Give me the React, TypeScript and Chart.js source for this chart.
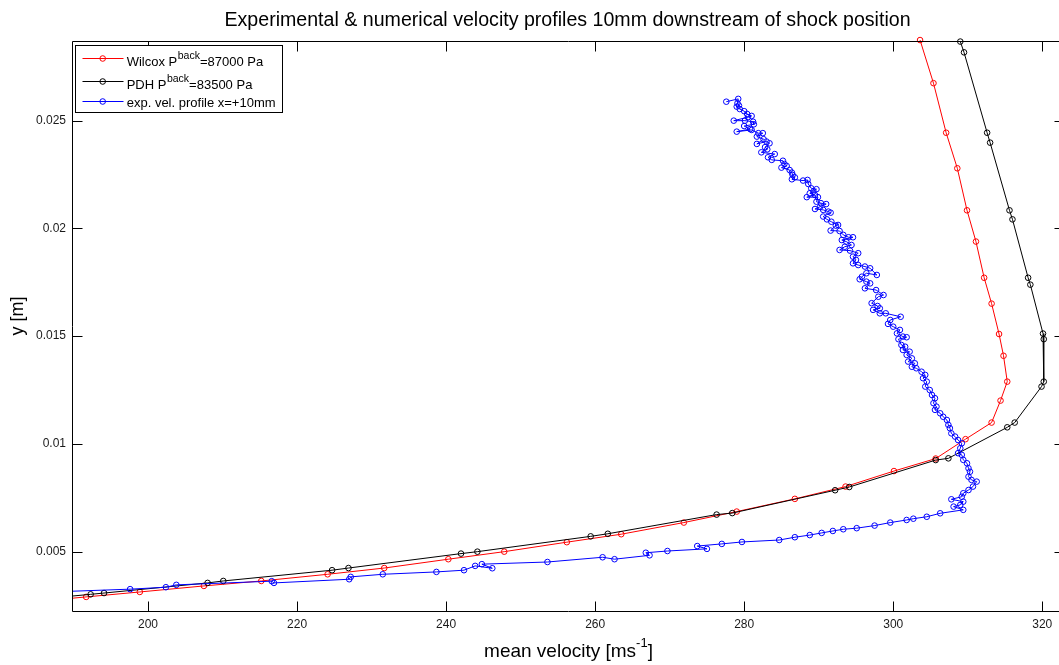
import React, { useEffect, useRef } from 'react';
import { Chart, registerables } from 'chart.js';

Chart.register(...registerables);

// ---------- DATA ----------
const titleText = 'Experimental & numerical velocity profiles 10mm downstream of shock position';
const xLabelMain = 'mean velocity [ms';
const xLabelSup = '-1';
const xLabelEnd = ']';
const yLabel = 'y [m]';

const xTicks = [200, 220, 240, 260, 280, 300, 320];
const yTicks = [0.005, 0.01, 0.015, 0.02, 0.025];
const xRange = [189.8, 323.05];
const yRange = [0.0022, 0.02865];

// Wilcox, P_back = 87000 Pa
const wilcoxVel = [303.6, 305.4, 307.1, 308.6, 309.9, 311.1, 312.2, 313.2, 314.2, 314.8, 315.3, 314.4, 313.2, 309.7, 305.7, 300.1, 293.6, 286.8, 279.0, 271.9, 263.5, 256.2, 247.8, 240.3, 231.7, 224.1, 215.2, 207.5, 198.9, 191.7, 185.5];
const wilcoxY = [0.02874, 0.02674, 0.02444, 0.02279, 0.02084, 0.01939, 0.01771, 0.01651, 0.0151, 0.01409, 0.01289, 0.01201, 0.01099, 0.01022, 0.00932, 0.00874, 0.00802, 0.00745, 0.00686, 0.00635, 0.00581, 0.00544, 0.005, 0.00465, 0.00424, 0.00395, 0.00364, 0.00341, 0.00313, 0.0029, 0.0027];

// PDH, P_back = 83500 Pa
const pdhVel = [309.0, 309.5, 312.6, 313.0, 315.6, 316.0, 318.1, 318.4, 320.1, 320.2, 320.2, 319.9, 316.3, 315.3, 307.4, 305.7, 294.1, 292.2, 278.4, 276.3, 261.7, 259.4, 244.2, 242.0, 226.9, 224.7, 210.1, 208.0, 194.1, 192.3, 185.5];
const pdhY = [0.02867, 0.02817, 0.02444, 0.02398, 0.02084, 0.02042, 0.01771, 0.01739, 0.01512, 0.01486, 0.01289, 0.01266, 0.01099, 0.01077, 0.00933, 0.00925, 0.008, 0.00785, 0.00679, 0.00672, 0.00583, 0.00571, 0.005, 0.00491, 0.00424, 0.00414, 0.00364, 0.00355, 0.00308, 0.00302, 0.0028];

// experimental velocity profile x = +10 mm
const expVel = [
  277.6, 279.2, 279.1, 279.3, 279.0, 279.4, 280.0, 280.4, 281.0, 280.5,
  278.6, 280.1, 281.2, 281.3, 280.0, 280.8, 279.0, 281.0, 281.9, 282.5,
  281.7, 282.6, 281.7, 283.0, 283.4, 282.8, 283.1, 282.3, 284.1, 283.2,
  283.7, 285.2, 285.4, 285.7, 285.0, 286.1, 286.4, 286.5, 286.8, 286.4,
  287.9, 288.5, 288.6, 289.0, 289.7, 289.3, 288.8, 289.5, 288.4, 289.9,
  289.7, 290.3, 291.0, 290.2, 289.5, 290.6, 291.3, 291.6, 290.6, 291.1,
  291.7, 292.6, 292.3, 291.6, 292.8, 293.3, 294.0, 294.6, 293.1, 293.7,
  294.4, 293.5, 292.8, 294.2, 295.3, 294.6, 295.0, 294.6, 295.3, 296.2,
  296.9, 297.8, 296.4, 295.8, 295.5, 296.4, 296.9, 296.2, 297.7, 298.7,
  298.0, 297.1, 297.9, 298.2, 297.3, 298.2, 299.0, 301.0, 299.6, 299.3,
  300.0, 300.9, 300.5, 301.3, 301.8, 300.7, 301.1, 301.6, 301.3, 302.2,
  301.8, 302.5, 302.0, 302.9, 302.5, 303.1, 303.8, 304.3, 304.0, 304.5,
  304.3, 304.9, 305.2, 305.6, 305.4, 305.8, 305.6, 306.3, 306.7, 307.2,
  307.4, 307.6, 307.8, 308.3, 308.7, 309.2, 309.0, 308.7, 309.2, 309.4,
  309.9, 310.1, 310.3, 310.1, 310.5, 311.2, 310.7, 310.1, 309.4, 309.2,
  307.8, 309.4, 309.0, 308.1, 309.4, 306.3, 304.5, 302.7, 301.8, 299.6,
  297.5, 295.1, 293.3, 291.9, 290.4, 288.8, 286.8, 284.7, 279.7, 277.0,
  273.7, 275.0, 269.7, 266.8, 267.3, 262.6, 261.0, 253.6, 244.8, 246.2,
  243.9, 242.4, 238.7, 231.5, 227.2, 227.0, 216.9, 216.6, 203.8, 202.4,
  197.6, 185.5,
];
const expY = [
  0.02588, 0.02601, 0.02581, 0.0257, 0.02565, 0.02554, 0.02544, 0.02531, 0.02522, 0.02516,
  0.025, 0.025, 0.02495, 0.02483, 0.02475, 0.02461, 0.02449, 0.02457, 0.02442, 0.02442,
  0.02426, 0.02414, 0.02392, 0.02403, 0.02395, 0.02377, 0.02367, 0.02353, 0.02345, 0.0233,
  0.02318, 0.02314, 0.02299, 0.0229, 0.02282, 0.02271, 0.02259, 0.02248, 0.02237, 0.02228,
  0.02222, 0.02225, 0.02206, 0.02186, 0.02182, 0.02171, 0.02163, 0.02155, 0.02145, 0.02145,
  0.02124, 0.02117, 0.02113, 0.02101, 0.0209, 0.02086, 0.02078, 0.02073, 0.02055, 0.02042,
  0.02031, 0.02016, 0.02013, 0.0199, 0.01988, 0.0197, 0.01959, 0.01959, 0.01946, 0.01939,
  0.01923, 0.01915, 0.019, 0.01897, 0.01885, 0.01869, 0.01854, 0.01838, 0.0183, 0.01823,
  0.01815, 0.01784, 0.01792, 0.01776, 0.01764, 0.01753, 0.01745, 0.01722, 0.01714, 0.01691,
  0.01683, 0.01653, 0.0164, 0.01629, 0.01622, 0.01606, 0.01606, 0.0159, 0.01575, 0.01557,
  0.01544, 0.01529, 0.01513, 0.01498, 0.01495, 0.01486, 0.01459, 0.01451, 0.01436, 0.01428,
  0.01413, 0.01397, 0.01382, 0.01374, 0.01358, 0.01351, 0.01335, 0.0132, 0.01305, 0.01289,
  0.01266, 0.0125, 0.01227, 0.01212, 0.01189, 0.01173, 0.01158, 0.01142, 0.01126, 0.01111,
  0.01088, 0.01073, 0.01049, 0.01034, 0.01018, 0.01003, 0.0098, 0.00957, 0.00949, 0.00926,
  0.0091, 0.00887, 0.00871, 0.00848, 0.00833, 0.00825, 0.00802, 0.00786, 0.00771, 0.00755,
  0.00743, 0.00732, 0.00717, 0.00709, 0.00694, 0.00678, 0.00662, 0.00653, 0.00647, 0.00635,
  0.00621, 0.00609, 0.00604, 0.00596, 0.00587, 0.00577, 0.00567, 0.00554, 0.00545, 0.00536,
  0.00526, 0.00513, 0.00503, 0.00495, 0.00483, 0.00465, 0.00474, 0.00452, 0.00442, 0.00423,
  0.00434, 0.00414, 0.00406, 0.00395, 0.00383, 0.00372, 0.00355, 0.00363, 0.00346, 0.00335,
  0.00326, 0.00311,
];

const legendItems = [
  { name: 'Wilcox P', sup: 'back', tail: '=87000 Pa', color: '#ff0000' },
  { name: 'PDH P', sup: 'back', tail: '=83500 Pa', color: '#000000' },
  { name: 'exp. vel. profile x=+10mm', sup: '', tail: '', color: '#0000ff' },
];

// ---------- STYLE / DRAWING ----------
const FONT = '"Liberation Sans", Arial, Helvetica, sans-serif';
const MARKER_R = 2.8;

const toPoints = (xs: number[], ys: number[]) => xs.map((x, i) => ({ x, y: ys[i] }));

const makeDataset = (xs: number[], ys: number[], color: string, order: number) => ({
  data: toPoints(xs, ys),
  showLine: true,
  borderColor: color,
  backgroundColor: 'rgba(0,0,0,0)',
  borderWidth: 1,
  pointRadius: MARKER_R,
  pointBorderWidth: 1,
  pointBorderColor: color,
  pointBackgroundColor: 'rgba(0,0,0,0)',
  tension: 0,
  order,
  clip: { left: 0, top: 6, right: 0, bottom: 0 },
});

const decorPlugin = {
  id: 'matlabDecor',
  afterDraw(chart: any) {
    const { ctx, chartArea: a, scales } = chart;
    const xs = scales.x;
    const ys = scales.y;
    ctx.save();

    // axes box
    ctx.strokeStyle = '#000';
    ctx.lineWidth = 1;
    const L = Math.round(a.left) + 0.5;
    const R = Math.round(a.right) - 0.5;
    const T = Math.round(a.top) - 0.5;
    const B = Math.round(a.bottom) - 0.5;
    ctx.beginPath();
    ctx.moveTo(L, T); ctx.lineTo(R, T); ctx.lineTo(R, B); ctx.lineTo(L, B); ctx.closePath();
    ctx.stroke();

    // inward ticks
    const tl = 10;
    ctx.beginPath();
    xTicks.forEach((v) => {
      const px = Math.round(xs.getPixelForValue(v)) + 0.5;
      ctx.moveTo(px, B); ctx.lineTo(px, B - tl);
      ctx.moveTo(px, T); ctx.lineTo(px, T + tl);
    });
    yTicks.forEach((v) => {
      const py = Math.round(ys.getPixelForValue(v)) + 0.5;
      ctx.moveTo(L, py); ctx.lineTo(L + tl, py);
      ctx.moveTo(R, py); ctx.lineTo(R - tl, py);
    });
    ctx.stroke();

    ctx.fillStyle = '#000';
    // title
    ctx.font = `19.6px ${FONT}`;
    ctx.textAlign = 'center';
    ctx.textBaseline = 'alphabetic';
    const cx = (a.left + a.right) / 2;
    ctx.fillText(titleText, cx - 1, 26);

    // x label with superscript
    const mainFont = `19px ${FONT}`;
    const supFont = `13px ${FONT}`;
    ctx.font = mainFont;
    const w1 = ctx.measureText(xLabelMain).width;
    const w3 = ctx.measureText(xLabelEnd).width;
    ctx.font = supFont;
    const w2 = ctx.measureText(xLabelSup).width;
    const x0 = cx - (w1 + w2 + w3) / 2;
    ctx.textAlign = 'left';
    ctx.font = mainFont;
    ctx.fillText(xLabelMain, x0, 657);
    ctx.font = supFont;
    ctx.fillText(xLabelSup, x0 + w1, 647);
    ctx.font = mainFont;
    ctx.fillText(xLabelEnd, x0 + w1 + w2, 657);

    // y label
    ctx.save();
    ctx.translate(18, 316);
    ctx.rotate(-Math.PI / 2);
    ctx.font = `18px ${FONT}`;
    ctx.textAlign = 'center';
    ctx.textBaseline = 'middle';
    ctx.fillText(yLabel, 0, 0);
    ctx.restore();

    // legend
    const bx = 75.5, by = 45.5, bw = 207, bh = 67;
    ctx.fillStyle = '#fff';
    ctx.fillRect(bx, by, bw, bh);
    ctx.strokeStyle = '#000';
    ctx.strokeRect(bx, by, bw, bh);
    const lineY = [58.5, 81.5, 101.5];
    const baseY = [66, 89, 107];
    const supY = [59, 82, 0];
    legendItems.forEach((it, i) => {
      ctx.strokeStyle = it.color;
      ctx.lineWidth = 1;
      ctx.beginPath();
      ctx.moveTo(82.5, lineY[i]);
      ctx.lineTo(123.5, lineY[i]);
      ctx.stroke();
      ctx.beginPath();
      ctx.arc(102.7, lineY[i], MARKER_R, 0, Math.PI * 2);
      ctx.stroke();
      ctx.fillStyle = '#000';
      ctx.textAlign = 'left';
      ctx.textBaseline = 'alphabetic';
      ctx.font = `13px ${FONT}`;
      let tx = 126.7;
      ctx.fillText(it.name, tx, baseY[i]);
      tx += ctx.measureText(it.name).width;
      if (it.sup) {
        ctx.font = `10.5px ${FONT}`;
        ctx.fillText(it.sup, tx + 0.5, supY[i]);
        tx += ctx.measureText(it.sup).width + 0.5;
        ctx.font = `13px ${FONT}`;
        ctx.fillText(it.tail, tx, baseY[i]);
      }
    });
    ctx.restore();
  },
};

export default function App() {
  const canvasRef = useRef<HTMLCanvasElement | null>(null);

  useEffect(() => {
    const canvas = canvasRef.current;
    if (!canvas) return;
    const tickFont = { family: FONT, size: 12 };
    const chart = new Chart(canvas, {
      type: 'scatter',
      data: {
        datasets: [
          makeDataset(wilcoxVel, wilcoxY, '#ff0000', 2),
          makeDataset(pdhVel, pdhY, '#000000', 1),
          makeDataset(expVel, expY, '#0000ff', 0),
        ] as any,
      },
      options: {
        responsive: false,
        animation: false,
        devicePixelRatio: 1,
        layout: { padding: { left: 0, right: 10, top: 42, bottom: 0 } },
        plugins: {
          legend: { display: false },
          tooltip: { enabled: false },
          title: { display: false },
        },
        scales: {
          x: {
            type: 'linear',
            min: xRange[0],
            max: xRange[1],
            grid: { display: false, drawTicks: false },
            border: { display: false },
            ticks: {
              font: tickFont,
              color: '#1a1a1a',
              padding: 5,
              maxRotation: 0,
              autoSkip: false,
              callback: (v: any) => String(v),
            },
            afterBuildTicks: (s: any) => {
              s.ticks = xTicks.map((v) => ({ value: v }));
            },
            afterFit: (s: any) => {
              s.height = 53;
            },
          },
          y: {
            type: 'linear',
            min: yRange[0],
            max: yRange[1],
            grid: { display: false, drawTicks: false },
            border: { display: false },
            ticks: {
              font: tickFont,
              color: '#1a1a1a',
              padding: 6,
              autoSkip: false,
              callback: (v: any) => String(Number(Number(v).toFixed(4))),
            },
            afterBuildTicks: (s: any) => {
              s.ticks = yTicks.map((v) => ({ value: v }));
            },
            afterFit: (s: any) => {
              s.width = 72;
            },
          },
        },
      } as any,
      plugins: [decorPlugin],
    });
    return () => chart.destroy();
  }, []);

  return (
    <div style={{ position: 'absolute', left: 0, top: 0, width: 1059, height: 665, overflow: 'hidden', background: '#fff' }}>
      <canvas ref={canvasRef} width={1075} height={665} style={{ display: 'block' }} />
    </div>
  );
}
